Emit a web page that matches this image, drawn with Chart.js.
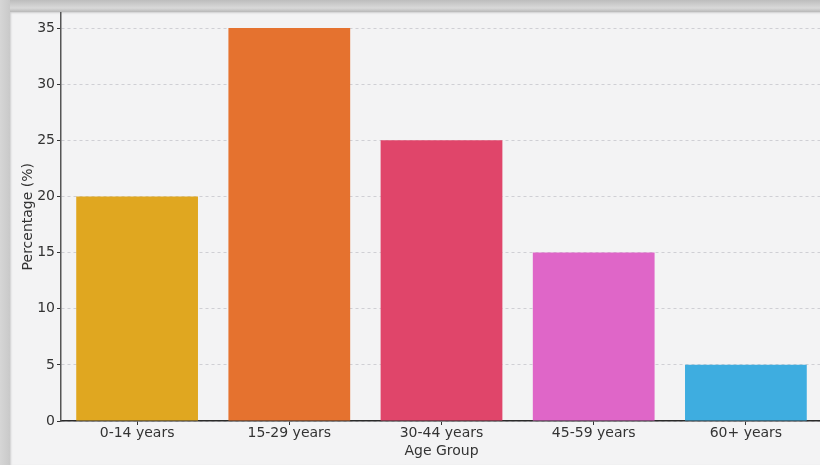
<!DOCTYPE html>
<html>
<head>
<meta charset="utf-8">
<script src="https://cdn.jsdelivr.net/npm/chart.js@4/dist/chart.umd.min.js"></script>
<style>
  html, body { margin: 0; padding: 0; width: 820px; height: 465px; overflow: hidden;
    background: linear-gradient(to bottom, #bdbdbd 0px, #d9d9d9 8px, #b8b8b8 12px); }
  #frame { position: absolute; left: 10px; top: 12px; width: 820px; height: 453px;
    background: #f3f3f4; overflow: hidden;
    box-shadow: inset 1px 1px 2px rgba(0,0,0,0.15); }
  #leftbar { position: absolute; left: 0; top: 0; width: 10px; height: 465px;
    background: linear-gradient(to right, #d6d6d6, #c9c9c9); }
  #wrap { position: absolute; left: 0; top: -10px; width: 812px; height: 463px; }
</style>
</head>
<body>
<div id="leftbar"></div>
<div id="frame"><div id="wrap"><canvas id="c"></canvas></div></div>
<script>
const categories = ['0-14 years', '15-29 years', '30-44 years', '45-59 years', '60+ years'];
const percentages = [20, 35, 25, 15, 5];
const barColors = ['#e0a720', '#e5722f', '#e0456a', '#df66c8', '#3eade0'];
const yTicks = [0, 5, 10, 15, 20, 25, 30, 35];
const xTitle = 'Age Group';
const yTitle = 'Percentage (%)';

const font = { family: '"DejaVu Sans", sans-serif', size: 14 };

new Chart(document.getElementById('c'), {
  type: 'bar',
  data: {
    labels: categories,
    datasets: [{
      data: percentages,
      backgroundColor: barColors,
      borderWidth: 0,
      categoryPercentage: 1.0,
      barPercentage: 0.8
    }]
  },
  options: {
    responsive: true,
    maintainAspectRatio: false,
    animation: false,
    layout: { padding: 0 },
    plugins: { legend: { display: false }, tooltip: { enabled: false } },
    scales: {
      x: {
        offset: true,
        grid: { display: true, drawOnChartArea: false, offset: false, tickLength: 4, tickColor: '#333', color: '#333' },
        border: { display: true, color: '#2a2a2a', width: 1.5 },
        ticks: { color: '#333', font: font, padding: 0 },
        title: { display: true, text: xTitle, color: '#333', font: font, padding: { top: 0, bottom: 5 } },
        afterFit: (s) => { s.height = 44; }
      },
      y: {
        min: 0,
        max: 36.4,
        afterBuildTicks: (s) => { s.ticks = yTicks.map(v => ({ value: v })); },
        grid: { color: '#cfcfd4', lineWidth: 1, tickLength: 4, tickColor: '#333' },
        border: { display: true, color: '#555', width: 1.5, dash: [3, 3] },
        ticks: { color: '#333', font: font, padding: 2 },
        title: { display: true, text: yTitle, color: '#333', font: font, padding: { top: 10, bottom: 0 } },
        afterFit: (s) => { s.width = 51; }
      }
    }
  }
});
</script>
</body>
</html>
